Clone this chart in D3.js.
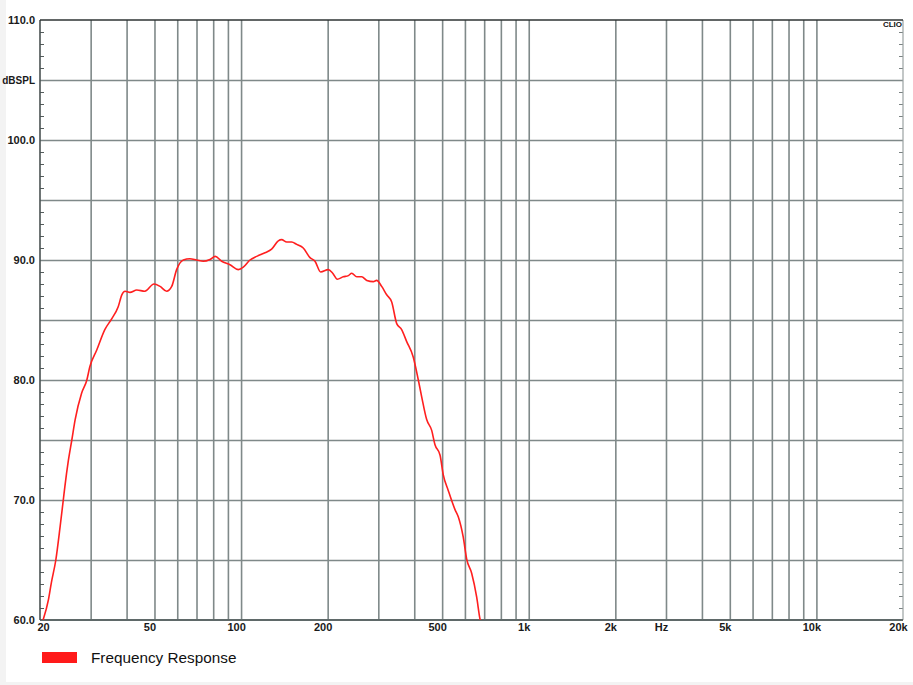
<!DOCTYPE html>
<html>
<head>
<meta charset="utf-8">
<script src="https://cdn.jsdelivr.net/npm/d3@7"></script>
<style>
  html, body { margin: 0; padding: 0; background: #f3f3f3; }
  svg { display: block; }
  text { font-family: "Liberation Sans", Arial, sans-serif; }
</style>
</head>
<body>
<svg id="chart" width="913" height="685"></svg>
<script>
// ---- data ----
const freqHz = [20.5, 21.4, 21.9, 22.7, 23.5, 24.1, 24.4, 25.1, 25.8, 26.5, 27.9, 29.1, 29.8, 31.5, 33.6, 35.5, 37.4, 38.5, 39.5, 41.1, 43.4, 46.3, 49.8, 52.3, 55.1, 57.4, 59.7, 63.0, 66.4, 70.1, 73.9, 78.0, 81.3, 85.6, 91.5, 97.8, 101.8, 107.4, 113.3, 121.1, 127.7, 134.7, 138.4, 144.1, 150.0, 156.1, 164.5, 173.6, 180.7, 189.1, 200.9, 208.2, 216.0, 226.6, 236.0, 242.5, 252.4, 262.7, 273.5, 288.3, 296.0, 308.2, 320.8, 333.9, 347.6, 361.6, 376.5, 396.9, 413.2, 424.5, 441.8, 459.9, 472.2, 491.5, 504.6, 525.0, 554.2, 568.9, 592.0, 608.3, 633.3, 659.3, 676.8, 687.0];
const splDb  = [60.0, 61.7, 63.1, 65.0, 67.8, 70.0, 71.1, 73.3, 75.0, 76.7, 78.9, 80.0, 81.1, 82.5, 84.2, 85.1, 86.1, 87.1, 87.4, 87.3, 87.5, 87.4, 88.0, 87.8, 87.4, 87.8, 89.2, 90.0, 90.1, 90.0, 89.9, 90.05, 90.3, 89.9, 89.6, 89.2, 89.4, 90.0, 90.3, 90.6, 90.9, 91.6, 91.7, 91.5, 91.5, 91.3, 91.0, 90.2, 89.9, 89.0, 89.2, 88.9, 88.4, 88.6, 88.7, 88.9, 88.6, 88.6, 88.3, 88.2, 88.3, 87.8, 87.1, 86.5, 84.7, 84.2, 83.2, 81.9, 80.0, 78.6, 76.7, 75.8, 74.6, 73.75, 72.1, 70.8, 69.2, 68.6, 66.9, 65.1, 63.9, 61.9, 60.1, 59.5];

const gridFreqs = [30, 40, 50, 60, 70, 80, 90, 100, 200, 300, 400, 500, 600, 700, 800, 900, 1000, 2000, 3000, 4000, 5000, 6000, 7000, 8000, 9000, 10000];
const gridDb = [65, 70, 75, 80, 85, 90, 95, 100, 105];
const minorDb = [61, 62, 63, 64, 66, 67, 68, 69, 71, 72, 73, 74, 76, 77, 78, 79, 81, 82, 83, 84, 86, 87, 88, 89, 91, 92, 93, 94, 96, 97, 98, 99, 101, 102, 103, 104, 106, 107, 108, 109];

const xTickValues = [20, 50, 100, 200, 500, 1000, 2000, 3000, 5000, 10000, 20000];
const xTickLabels = ["20", "50", "100", "200", "500", "1k", "2k", "Hz", "5k", "10k", "20k"];
const yTickValues = [60, 70, 80, 90, 100, 105, 110];
const yTickLabels = ["60.0", "70.0", "80.0", "90.0", "100.0", "dBSPL", "110.0"];

const seriesName = "Frequency Response";
const brandText = "CLIO";

// ---- layout ----
(function () {
const svg = d3.select("#chart");
const W = 913;
const mLeft = 40, mRight = 903, mTop = 20, mBottom = 620;

svg.append("rect").attr("x", 6).attr("y", 0).attr("width", W - 6).attr("height", 682).attr("fill", "#ffffff");

const x = d3.scaleLog().domain([20, 20000]).range([mLeft, mRight]);
const y = d3.scaleLinear().domain([60, 110]).range([mBottom, mTop]);

const gridColor = "#7f8989";

// vertical gridlines
svg.append("g")
  .attr("transform", `translate(0,${mBottom})`)
  .call(d3.axisBottom(x).tickValues(gridFreqs).tickSize(-(mBottom - mTop)).tickFormat(""))
  .call(g => g.select(".domain").remove())
  .call(g => g.selectAll(".tick line").attr("stroke", gridColor).attr("stroke-width", 1.6));

// horizontal gridlines
svg.append("g")
  .attr("transform", `translate(${mLeft},0)`)
  .call(d3.axisLeft(y).tickValues(gridDb).tickSize(-(mRight - mLeft)).tickFormat(""))
  .call(g => g.select(".domain").remove())
  .call(g => g.selectAll(".tick line").attr("stroke", gridColor).attr("stroke-width", 1.6));

// left minor ticks (inward)
svg.append("g")
  .attr("transform", `translate(${mLeft},0)`)
  .call(d3.axisLeft(y).tickValues(minorDb).tickSize(-4).tickFormat(""))
  .call(g => g.select(".domain").remove())
  .call(g => g.selectAll(".tick line").attr("stroke", "#555d5d").attr("stroke-width", 1));

// right minor ticks (inward)
svg.append("g")
  .attr("transform", `translate(${mRight},0)`)
  .call(d3.axisRight(y).tickValues(minorDb).tickSize(-4).tickFormat(""))
  .call(g => g.select(".domain").remove())
  .call(g => g.selectAll(".tick line").attr("stroke", "#7a8282").attr("stroke-width", 1));

// frame
svg.append("line").attr("x1", mRight).attr("x2", mRight).attr("y1", mTop).attr("y2", mBottom)
  .attr("stroke", "#9aa2a2").attr("stroke-width", 1.2);
svg.append("line").attr("x1", mLeft).attr("x2", mRight).attr("y1", mBottom).attr("y2", mBottom)
  .attr("stroke", "#5f6969").attr("stroke-width", 2);
svg.append("line").attr("x1", mLeft).attr("x2", mLeft).attr("y1", mTop).attr("y2", mBottom)
  .attr("stroke", "#4a5252").attr("stroke-width", 1.6);
svg.append("line").attr("x1", mLeft).attr("x2", mRight).attr("y1", mTop).attr("y2", mTop)
  .attr("stroke", "#2e3333").attr("stroke-width", 1.6);

// y labels
const yLab = svg.append("g")
  .attr("transform", `translate(${mLeft - 5},0)`)
  .call(d3.axisLeft(y).tickValues(yTickValues).tickSize(0).tickPadding(0)
        .tickFormat((d) => yTickLabels[yTickValues.indexOf(d)]));
yLab.select(".domain").remove();
yLab.selectAll("text")
  .attr("font-family", "'Liberation Sans', Arial, sans-serif")
  .attr("font-size", 11).attr("font-weight", "bold").attr("fill", "#1a1a1a");
yLab.selectAll(".tick").filter(d => d === 105).select("text").attr("font-size", 10);

// x labels
const xLab = svg.append("g")
  .attr("transform", `translate(0,${mBottom})`)
  .call(d3.axisBottom(x).tickValues(xTickValues).tickSize(0).tickPadding(3)
        .tickFormat((d) => xTickLabels[xTickValues.indexOf(d)]));
xLab.select(".domain").remove();
xLab.selectAll("text")
  .attr("font-family", "'Liberation Sans', Arial, sans-serif")
  .attr("font-size", 11).attr("font-weight", "bold").attr("fill", "#1a1a1a")
  .attr("dx", d => (d === 20 ? 3 : -5));

// curve
svg.append("clipPath").attr("id", "plotclip")
  .append("rect").attr("x", mLeft).attr("y", mTop).attr("width", mRight - mLeft).attr("height", mBottom - mTop);

const pts = freqHz.map((f, i) => [f, splDb[i]]);
const line = d3.line()
  .x(d => x(d[0]))
  .y(d => y(d[1]))
  .curve(d3.curveMonotoneX);

svg.append("path")
  .datum(pts)
  .attr("clip-path", "url(#plotclip)")
  .attr("fill", "none")
  .attr("stroke", "#ff1f1f")
  .attr("stroke-width", 1.6)
  .attr("stroke-linejoin", "round")
  .attr("d", line);

// brand
svg.append("text")
  .attr("x", mRight - 1).attr("y", mTop + 7)
  .attr("text-anchor", "end")
  .attr("font-family", "'Liberation Serif', 'DejaVu Serif', serif")
  .attr("font-weight", "bold")
  .attr("font-size", 8)
  .attr("fill", "#111")
  .text(brandText);

// legend
const legend = svg.append("g").attr("transform", "translate(42,652)");
legend.append("rect").attr("width", 35).attr("height", 11).attr("fill", "#ff1a1a");
legend.append("text")
  .attr("x", 49).attr("y", 10.5)
  .attr("font-family", "'Liberation Sans', Arial, sans-serif")
  .attr("font-size", 15.3)
  .attr("fill", "#111")
  .text(seriesName);
})();
</script>
</body>
</html>
